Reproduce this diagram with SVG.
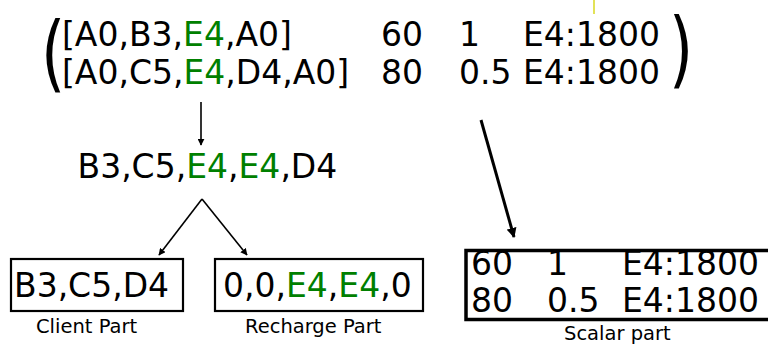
<svg xmlns="http://www.w3.org/2000/svg" width="768" height="352" viewBox="0 0 768 352">
<style>
text{font-family:"DejaVu Sans",Verdana,sans-serif;fill:#000}
.big{font-size:33px}
.lbl{font-size:19.5px}
.g{fill:#008000}
.box{fill:none;stroke:#000;stroke-width:2.2}
.ln{stroke:#000;stroke-width:1.6;fill:none}
</style>
<defs>
<marker id="ah" viewBox="0 0 10 10" refX="9" refY="5" markerWidth="7" markerHeight="7" markerUnits="userSpaceOnUse" orient="auto">
<path d="M0,0 L10,5 L0,10 z" fill="#000"/>
</marker>
<marker id="ah2" viewBox="0 0 10 10" refX="9" refY="5" markerWidth="10" markerHeight="10" markerUnits="userSpaceOnUse" orient="auto">
<path d="M0,0 L10,5 L0,10 z" fill="#000"/>
</marker>
</defs>
<rect width="768" height="352" fill="#fff"/>
<line x1="594" y1="0" x2="594" y2="14" stroke="#d8d820" stroke-width="1.5"/>
<g id="matrix">
<text class="big" transform="translate(41,81.6) scale(1,1.35)" font-size="62" style="font-size:62px">(</text>
<text class="big" x="62" y="46">[A0,B3,<tspan class="g">E4</tspan>,A0]</text>
<text class="big" x="381" y="46">60</text>
<text class="big" x="459" y="46">1</text>
<text class="big" x="523" y="46">E4:1800</text>
<text class="big" x="62" y="84">[A0,C5,<tspan class="g">E4</tspan>,D4,A0]</text>
<text class="big" x="381" y="84">80</text>
<text class="big" x="459" y="84">0.5</text>
<text class="big" x="523" y="84">E4:1800</text>
<text class="big" transform="translate(669,77.6) scale(1,1.35)" style="font-size:62px">)</text>
</g>
<g id="merged">
<text class="big" x="77.5" y="178">B3,C5,<tspan class="g">E4</tspan>,<tspan class="g">E4</tspan>,D4</text>
</g>
<g id="client">
<rect class="box" x="11" y="259" width="172" height="52"/>
<text class="big" x="14" y="297">B3,C5,D4</text>
<text class="lbl" x="36" y="333">Client Part</text>
</g>
<g id="recharge">
<rect class="box" x="215" y="259" width="208" height="52"/>
<text class="big" x="223" y="297">0,0,<tspan class="g">E4</tspan>,<tspan class="g">E4</tspan>,0</text>
<text class="lbl" x="245" y="333">Recharge Part</text>
</g>
<g id="scalar">
<rect x="466" y="250.5" width="320" height="69" fill="none" stroke="#000" stroke-width="3.5"/>
<text class="big" x="471" y="275">60</text>
<text class="big" x="547" y="275">1</text>
<text class="big" x="622" y="275">E4:1800</text>
<text class="big" x="471" y="312">80</text>
<text class="big" x="547" y="312">0.5</text>
<text class="big" x="622" y="312">E4:1800</text>
<text class="lbl" x="564" y="340">Scalar part</text>
</g>
<g id="connectors">
<line class="ln" x1="201" y1="102" x2="201" y2="145" marker-end="url(#ah)"/>
<line class="ln" x1="202" y1="199" x2="159" y2="255" marker-end="url(#ah)"/>
<line class="ln" x1="202" y1="199" x2="247" y2="255" marker-end="url(#ah)"/>
<line x1="481" y1="120" x2="514" y2="237" stroke="#000" stroke-width="3" marker-end="url(#ah2)"/>
</g>
</svg>
